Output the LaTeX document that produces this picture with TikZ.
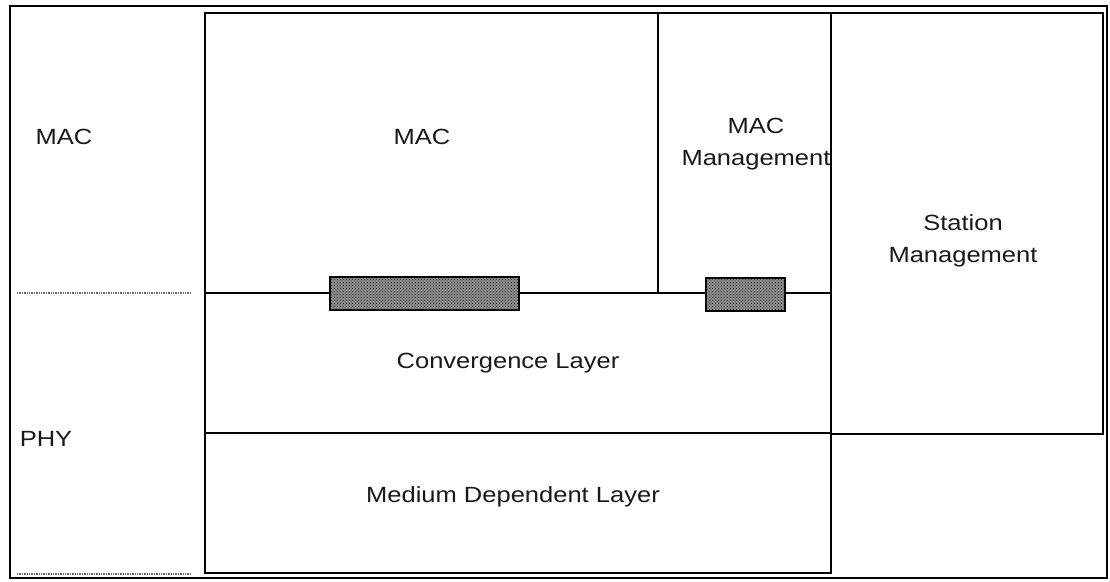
\documentclass[tikz,border=0pt]{standalone}
\usepackage{fontspec}
\setmainfont{Liberation Sans}[FakeStretch=1.16]
\usetikzlibrary{positioning, patterns}

\begin{document}
\begin{tikzpicture}[
		x=1pt, y=-1pt,
		frame/.style = {draw, line width=2.6pt},
		layer/.style = {draw, line width=1.8pt},
		sap/.style = {draw, line width=1.6pt, fill=black!45, postaction={pattern=crosshatch dots, pattern color=black!85}},
		split/.style = {densely dotted, line width=1.4pt, black!60},
		label/.style = {font=\fontsize{22}{32}\selectfont, align=center, inner sep=0pt, text=black!90},
	]
	\useasboundingbox (0,0) rectangle (1110,581);

	% outer frame and stack
	\draw[frame] (10,6) rectangle (1107,578);
	\draw[layer] (205,13) rectangle (831,573);
	\draw[layer] (831,13) -- (1103,13) -- (1103,434) -- (831,434);
	\draw[layer] (205,293) -- (831,293);
	\draw[layer] (205,433) -- (831,433);
	\draw[layer] (658,13) -- (658,293);

	% access points between MAC and convergence
	\draw[sap] (330,277) rectangle (519,310);
	\draw[sap] (706,278) rectangle (785,311);

	% MAC / PHY split on the left
	\draw[split] (17,293) -- (192,293);
	\draw[split] (17,574) -- (192,574);

	\node[label] (macL) at (64,137) {MAC};
	\node[label] (phyL) at (46,439) {PHY};
	\node[label] (mac) at (422,137) {MAC};
	\node[label] (macmgmt) at (756,144) {MAC\\Management};
	\node[label] (stamgmt) at (963,241) {Station\\Management};
	\node[label] (conv) at (508,363) {Convergence Layer};
	\node[label] (mdl) at (513,497) {Medium Dependent Layer};
\end{tikzpicture}
\end{document}
